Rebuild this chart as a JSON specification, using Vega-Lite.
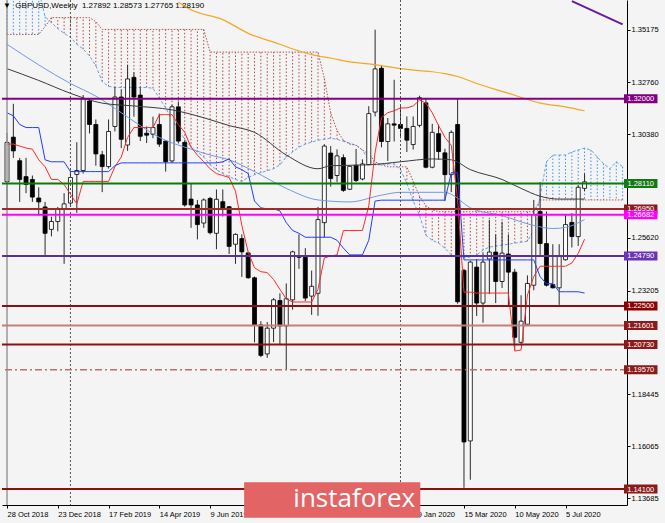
{
"$schema":"https://vega.github.io/schema/vega-lite/v6.json",
"width":625,"height":505,
"autosize":{"type":"none"},
"padding":{"left":2,"top":0,"right":38,"bottom":18},
"background":"#f4f4f4",
"view":{"stroke":null,"fill":"#f4f4f4"},
"config":{"font":"Liberation Sans","axis":{"labelFont":"Liberation Sans","labelFontSize":7.5,"labelColor":"#000","tickColor":"#000","domainColor":"#000","tickSize":3,"grid":false,"title":null}},
"title":{"text":"▼\u00a0\u00a0GBPUSD,Weekly\u00a0\u00a01.27892 1.28573 1.27765 1.28190","anchor":"start","frame":"group","offset":-11,"fontSize":8,"font":"Liberation Sans","fontWeight":"normal","color":"#000","dx":1},
"datasets":{
"candles":[
{"d":"2018-10-28","o":1.2820,"h":1.3043,"l":1.2700,"c":1.3000},
{"d":"2018-11-04","o":1.3024,"h":1.3177,"l":1.2929,"c":1.2961},
{"d":"2018-11-11","o":1.2916,"h":1.2929,"l":1.2727,"c":1.2830},
{"d":"2018-11-18","o":1.2843,"h":1.2929,"l":1.2767,"c":1.2807},
{"d":"2018-11-25","o":1.2830,"h":1.2848,"l":1.2727,"c":1.2749},
{"d":"2018-12-02","o":1.2745,"h":1.2794,"l":1.2664,"c":1.2727},
{"d":"2018-12-09","o":1.2704,"h":1.2727,"l":1.2484,"c":1.2583},
{"d":"2018-12-16","o":1.2601,"h":1.2659,"l":1.2569,"c":1.2637},
{"d":"2018-12-23","o":1.2637,"h":1.2704,"l":1.2592,"c":1.2695},
{"d":"2018-12-30","o":1.2695,"h":1.2767,"l":1.2443,"c":1.2718},
{"d":"2019-01-06","o":1.2722,"h":1.2871,"l":1.2704,"c":1.2839},
{"d":"2019-01-13","o":1.2853,"h":1.3001,"l":1.2677,"c":1.2871},
{"d":"2019-01-20","o":1.2871,"h":1.3217,"l":1.2857,"c":1.3199},
{"d":"2019-01-27","o":1.3190,"h":1.3199,"l":1.3041,"c":1.3082},
{"d":"2019-02-03","o":1.3082,"h":1.3105,"l":1.2893,"c":1.2947},
{"d":"2019-02-10","o":1.2943,"h":1.2961,"l":1.2772,"c":1.2889},
{"d":"2019-02-17","o":1.2889,"h":1.3105,"l":1.2880,"c":1.3050},
{"d":"2019-02-24","o":1.3073,"h":1.3253,"l":1.3050,"c":1.3208},
{"d":"2019-03-03","o":1.3208,"h":1.3244,"l":1.2974,"c":1.3014},
{"d":"2019-03-10","o":1.2988,"h":1.3356,"l":1.2961,"c":1.3291},
{"d":"2019-03-17","o":1.3298,"h":1.3321,"l":1.3118,"c":1.3208},
{"d":"2019-03-24","o":1.3217,"h":1.3253,"l":1.3006,"c":1.3028},
{"d":"2019-03-31","o":1.3042,"h":1.3073,"l":1.2997,"c":1.3033},
{"d":"2019-04-07","o":1.3037,"h":1.3118,"l":1.3019,"c":1.3068},
{"d":"2019-04-14","o":1.3082,"h":1.3132,"l":1.2979,"c":1.2992},
{"d":"2019-04-21","o":1.3006,"h":1.3010,"l":1.2866,"c":1.2911},
{"d":"2019-04-28","o":1.2915,"h":1.3172,"l":1.2906,"c":1.3163},
{"d":"2019-05-05","o":1.3163,"h":1.3186,"l":1.2995,"c":1.3006},
{"d":"2019-05-12","o":1.3000,"h":1.3010,"l":1.2705,"c":1.2713},
{"d":"2019-05-19","o":1.2740,"h":1.2812,"l":1.2608,"c":1.2713},
{"d":"2019-05-26","o":1.2713,"h":1.2736,"l":1.2555,"c":1.2623},
{"d":"2019-06-02","o":1.2630,"h":1.2743,"l":1.2608,"c":1.2736},
{"d":"2019-06-09","o":1.2743,"h":1.2750,"l":1.2578,"c":1.2586},
{"d":"2019-06-16","o":1.2583,"h":1.2784,"l":1.2510,"c":1.2739},
{"d":"2019-06-23","o":1.2728,"h":1.2784,"l":1.2660,"c":1.2698},
{"d":"2019-06-30","o":1.2705,"h":1.2708,"l":1.2488,"c":1.2523},
{"d":"2019-07-07","o":1.2533,"h":1.2583,"l":1.2443,"c":1.2578},
{"d":"2019-07-14","o":1.2559,"h":1.2578,"l":1.2383,"c":1.2498},
{"d":"2019-07-21","o":1.2493,"h":1.2497,"l":1.2375,"c":1.2379},
{"d":"2019-07-28","o":1.2379,"h":1.2385,"l":1.2083,"c":1.2163},
{"d":"2019-08-04","o":1.2163,"h":1.2180,"l":1.2015,"c":1.2023},
{"d":"2019-08-11","o":1.2030,"h":1.2176,"l":1.2012,"c":1.2148},
{"d":"2019-08-18","o":1.2148,"h":1.2286,"l":1.2084,"c":1.2278},
{"d":"2019-08-25","o":1.2275,"h":1.2308,"l":1.2070,"c":1.2158},
{"d":"2019-09-01","o":1.2158,"h":1.2353,"l":1.1958,"c":1.2283},
{"d":"2019-09-08","o":1.2278,"h":1.2503,"l":1.2233,"c":1.2498},
{"d":"2019-09-15","o":1.2478,"h":1.2578,"l":1.2420,"c":1.2473},
{"d":"2019-09-22","o":1.2473,"h":1.2515,"l":1.2272,"c":1.2286},
{"d":"2019-09-29","o":1.2295,"h":1.2412,"l":1.2209,"c":1.2340},
{"d":"2019-10-06","o":1.2308,"h":1.2704,"l":1.2205,"c":1.2646},
{"d":"2019-10-13","o":1.2632,"h":1.2992,"l":1.2564,"c":1.2983},
{"d":"2019-10-20","o":1.2951,"h":1.2983,"l":1.2797,"c":1.2834},
{"d":"2019-10-27","o":1.2848,"h":1.2968,"l":1.2818,"c":1.2938},
{"d":"2019-11-03","o":1.2930,"h":1.2945,"l":1.2773,"c":1.2780},
{"d":"2019-11-10","o":1.2785,"h":1.2895,"l":1.2782,"c":1.2890},
{"d":"2019-11-17","o":1.2895,"h":1.2970,"l":1.2818,"c":1.2825},
{"d":"2019-11-24","o":1.2832,"h":1.2922,"l":1.2826,"c":1.2901},
{"d":"2019-12-01","o":1.2898,"h":1.3166,"l":1.2897,"c":1.3132},
{"d":"2019-12-08","o":1.3139,"h":1.3517,"l":1.3119,"c":1.3337},
{"d":"2019-12-15","o":1.3340,"h":1.3352,"l":1.2977,"c":1.3004},
{"d":"2019-12-22","o":1.3004,"h":1.3112,"l":1.2915,"c":1.3085},
{"d":"2019-12-29","o":1.3085,"h":1.3287,"l":1.3004,"c":1.3079},
{"d":"2020-01-05","o":1.3082,"h":1.3166,"l":1.3019,"c":1.3064},
{"d":"2020-01-12","o":1.3064,"h":1.3119,"l":1.2956,"c":1.3010},
{"d":"2020-01-19","o":1.2990,"h":1.3119,"l":1.2967,"c":1.3073},
{"d":"2020-01-26","o":1.3078,"h":1.3214,"l":1.3069,"c":1.3205},
{"d":"2020-02-02","o":1.3181,"h":1.3202,"l":1.2881,"c":1.2886},
{"d":"2020-02-09","o":1.2886,"h":1.3085,"l":1.2881,"c":1.3046},
{"d":"2020-02-16","o":1.3040,"h":1.3082,"l":1.2920,"c":1.2958},
{"d":"2020-02-23","o":1.2952,"h":1.2971,"l":1.2731,"c":1.2852},
{"d":"2020-03-01","o":1.2852,"h":1.3055,"l":1.2772,"c":1.3046},
{"d":"2020-03-08","o":1.3082,"h":1.3202,"l":1.2260,"c":1.2269},
{"d":"2020-03-15","o":1.2413,"h":1.2420,"l":1.1416,"c":1.1626},
{"d":"2020-03-22","o":1.1631,"h":1.2458,"l":1.1453,"c":1.2451},
{"d":"2020-03-29","o":1.2428,"h":1.2465,"l":1.2204,"c":1.2263},
{"d":"2020-04-05","o":1.2263,"h":1.2496,"l":1.2173,"c":1.2451},
{"d":"2020-04-12","o":1.2465,"h":1.2645,"l":1.2304,"c":1.2497},
{"d":"2020-04-19","o":1.2497,"h":1.2578,"l":1.2263,"c":1.2362},
{"d":"2020-04-26","o":1.2362,"h":1.2636,"l":1.2332,"c":1.2492},
{"d":"2020-05-03","o":1.2488,"h":1.2578,"l":1.2250,"c":1.2405},
{"d":"2020-05-10","o":1.2405,"h":1.2420,"l":1.2046,"c":1.2106},
{"d":"2020-05-17","o":1.2083,"h":1.2299,"l":1.2075,"c":1.2180},
{"d":"2020-05-24","o":1.2166,"h":1.2390,"l":1.2164,"c":1.2353},
{"d":"2020-05-31","o":1.2345,"h":1.2736,"l":1.2322,"c":1.2668},
{"d":"2020-06-07","o":1.2683,"h":1.2818,"l":1.2480,"c":1.2536},
{"d":"2020-06-14","o":1.2536,"h":1.2683,"l":1.2339,"c":1.2345},
{"d":"2020-06-21","o":1.2348,"h":1.2533,"l":1.2330,"c":1.2333},
{"d":"2020-06-28","o":1.2333,"h":1.2533,"l":1.2255,"c":1.2480},
{"d":"2020-07-05","o":1.2462,"h":1.2668,"l":1.2458,"c":1.2623},
{"d":"2020-07-12","o":1.2633,"h":1.2675,"l":1.2518,"c":1.2568},
{"d":"2020-07-19","o":1.2568,"h":1.2803,"l":1.2525,"c":1.2794},
{"d":"2020-07-26","o":1.27892,"h":1.28573,"l":1.27765,"c":1.28190}
],
"ichi":[
{"d":"2018-10-28","t":1.2992,"k":1.3136},{"d":"2018-11-04","t":1.2992,"k":1.3122},{"d":"2018-11-11","t":1.2983,"k":1.3082},{"d":"2018-11-18","t":1.2974,"k":1.3068},{"d":"2018-11-25","t":1.2969,"k":1.3068},{"d":"2018-12-02","t":1.2920,"k":1.3068},{"d":"2018-12-09","t":1.2888,"k":1.2920},{"d":"2018-12-16","t":1.2830,"k":1.2911},{"d":"2018-12-23","t":1.2830,"k":1.2911},{"d":"2018-12-30","t":1.2807,"k":1.2911},
{"d":"2019-01-06","t":1.2762,"k":1.2866},{"d":"2019-01-13","t":1.2718,"k":1.2866},{"d":"2019-01-20","t":1.2821,"k":1.2866},{"d":"2019-01-27","t":1.2821,"k":1.2866},{"d":"2019-02-03","t":1.2821,"k":1.2866},{"d":"2019-02-10","t":1.2821,"k":1.2866},{"d":"2019-02-17","t":1.2821,"k":1.2866},{"d":"2019-02-24","t":1.2888,"k":1.2893},{"d":"2019-03-03","t":1.2933,"k":1.2906},{"d":"2019-03-10","t":1.3023,"k":1.2906},
{"d":"2019-03-17","t":1.3068,"k":1.2906},{"d":"2019-03-24","t":1.3068,"k":1.2906},{"d":"2019-03-31","t":1.3068,"k":1.2906},{"d":"2019-04-07","t":1.3068,"k":1.2906},{"d":"2019-04-14","t":1.3127,"k":1.2906},{"d":"2019-04-21","t":1.3127,"k":1.2906},{"d":"2019-04-28","t":1.3127,"k":1.2906},{"d":"2019-05-05","t":1.3082,"k":1.2906},{"d":"2019-05-12","t":1.3046,"k":1.2906},{"d":"2019-05-19","t":1.2978,"k":1.2906},
{"d":"2019-05-26","t":1.2942,"k":1.2906},{"d":"2019-06-02","t":1.2911,"k":1.2906},{"d":"2019-06-09","t":1.2879,"k":1.2906},{"d":"2019-06-16","t":1.2857,"k":1.2906},{"d":"2019-06-23","t":1.2848,"k":1.2911},{"d":"2019-06-30","t":1.2839,"k":1.2924},{"d":"2019-07-07","t":1.2776,"k":1.2888},{"d":"2019-07-14","t":1.2619,"k":1.2875},{"d":"2019-07-21","t":1.2497,"k":1.2857},{"d":"2019-07-28","t":1.2425,"k":1.2731},
{"d":"2019-08-04","t":1.2407,"k":1.2700},{"d":"2019-08-11","t":1.2403,"k":1.2695},{"d":"2019-08-18","t":1.2371,"k":1.2695},{"d":"2019-08-25","t":1.2326,"k":1.2686},{"d":"2019-09-01","t":1.2282,"k":1.2632},{"d":"2019-09-08","t":1.2268,"k":1.2596},{"d":"2019-09-15","t":1.2268,"k":1.2583},{"d":"2019-09-22","t":1.2268,"k":1.2565},{"d":"2019-09-29","t":1.2268,"k":1.2565},{"d":"2019-10-06","t":1.2326,"k":1.2565},
{"d":"2019-10-13","t":1.2470,"k":1.2565},{"d":"2019-10-20","t":1.2479,"k":1.2565},{"d":"2019-10-27","t":1.2484,"k":1.2551},{"d":"2019-11-03","t":1.2596,"k":1.2515},{"d":"2019-11-10","t":1.2596,"k":1.2484},{"d":"2019-11-17","t":1.2596,"k":1.2484},{"d":"2019-11-24","t":1.2596,"k":1.2484},{"d":"2019-12-01","t":1.2709,"k":1.2551},{"d":"2019-12-08","t":1.2956,"k":1.2731},{"d":"2019-12-15","t":1.3113,"k":1.2735},
{"d":"2019-12-22","t":1.3136,"k":1.2735},{"d":"2019-12-29","t":1.3145,"k":1.2735},{"d":"2020-01-05","t":1.3158,"k":1.2735},{"d":"2020-01-12","t":1.3158,"k":1.2735},{"d":"2020-01-19","t":1.3167,"k":1.2735},{"d":"2020-01-26","t":1.3194,"k":1.2735},{"d":"2020-02-02","t":1.3180,"k":1.2735},{"d":"2020-02-09","t":1.3136,"k":1.2735},{"d":"2020-02-16","t":1.3077,"k":1.2735},{"d":"2020-02-23","t":1.3023,"k":1.2735},
{"d":"2020-03-01","t":1.2987,"k":1.2861},{"d":"2020-03-08","t":1.2737,"k":1.2861},{"d":"2020-03-15","t":1.2313,"k":1.2461},{"d":"2020-03-22","t":1.2313,"k":1.2461},{"d":"2020-03-29","t":1.2309,"k":1.2461},{"d":"2020-04-05","t":1.2309,"k":1.2461},{"d":"2020-04-12","t":1.2309,"k":1.2461},{"d":"2020-04-19","t":1.2309,"k":1.2461},{"d":"2020-04-26","t":1.2309,"k":1.2461},{"d":"2020-05-03","t":1.2309,"k":1.2461},
{"d":"2020-05-10","t":1.2043,"k":1.2461},{"d":"2020-05-17","t":1.2048,"k":1.2461},{"d":"2020-05-24","t":1.2300,"k":1.2461},{"d":"2020-05-31","t":1.2385,"k":1.2461},{"d":"2020-06-07","t":1.2432,"k":1.2384},{"d":"2020-06-14","t":1.2432,"k":1.2352},{"d":"2020-06-21","t":1.2432,"k":1.2352},{"d":"2020-06-28","t":1.2432,"k":1.2315},{"d":"2020-07-05","t":1.2432,"k":1.2315},{"d":"2020-07-12","t":1.2447,"k":1.2315},
{"d":"2020-07-19","t":1.2491,"k":1.2315},{"d":"2020-07-26","t":1.2556,"k":1.2309}
],
"cloud":[
{"d":"2018-10-28","a":1.3697,"b":1.3495},{"d":"2018-11-04","a":1.3697,"b":1.3495},{"d":"2018-11-11","a":1.3697,"b":1.3495},{"d":"2018-11-18","a":1.3697,"b":1.3495},{"d":"2018-11-25","a":1.3697,"b":1.3495},{"d":"2018-12-02","a":1.3697,"b":1.3495},{"d":"2018-12-09","a":1.3576,"b":1.3531},{"d":"2018-12-16","a":1.3549,"b":1.3572},{"d":"2018-12-23","a":1.3522,"b":1.3572},{"d":"2018-12-30","a":1.3500,"b":1.3572},
{"d":"2019-01-06","a":1.3482,"b":1.3572},{"d":"2019-01-13","a":1.3450,"b":1.3572},{"d":"2019-01-20","a":1.3428,"b":1.3572},{"d":"2019-01-27","a":1.3396,"b":1.3572},{"d":"2019-02-03","a":1.3351,"b":1.3554},{"d":"2019-02-10","a":1.3279,"b":1.3518},{"d":"2019-02-17","a":1.3257,"b":1.3518},{"d":"2019-02-24","a":1.3252,"b":1.3518},{"d":"2019-03-03","a":1.3252,"b":1.3518},{"d":"2019-03-10","a":1.3252,"b":1.3518},
{"d":"2019-03-17","a":1.3252,"b":1.3518},{"d":"2019-03-24","a":1.3252,"b":1.3518},{"d":"2019-03-31","a":1.3252,"b":1.3518},{"d":"2019-04-07","a":1.3248,"b":1.3518},{"d":"2019-04-14","a":1.3203,"b":1.3518},{"d":"2019-04-21","a":1.3158,"b":1.3518},{"d":"2019-04-28","a":1.3104,"b":1.3518},{"d":"2019-05-05","a":1.3059,"b":1.3518},{"d":"2019-05-12","a":1.3014,"b":1.3518},{"d":"2019-05-19","a":1.2978,"b":1.3518},
{"d":"2019-05-26","a":1.2956,"b":1.3518},{"d":"2019-06-02","a":1.2933,"b":1.3518},{"d":"2019-06-09","a":1.2897,"b":1.3414},{"d":"2019-06-16","a":1.2875,"b":1.3414},{"d":"2019-06-23","a":1.2857,"b":1.3414},{"d":"2019-06-30","a":1.2843,"b":1.3414},{"d":"2019-07-07","a":1.2830,"b":1.3414},{"d":"2019-07-14","a":1.2821,"b":1.3414},{"d":"2019-07-21","a":1.2839,"b":1.3414},{"d":"2019-07-28","a":1.2852,"b":1.3414},
{"d":"2019-08-04","a":1.2861,"b":1.3414},{"d":"2019-08-11","a":1.2870,"b":1.3414},{"d":"2019-08-18","a":1.2879,"b":1.3414},{"d":"2019-08-25","a":1.2897,"b":1.3414},{"d":"2019-09-01","a":1.2933,"b":1.3414},{"d":"2019-09-08","a":1.2956,"b":1.3414},{"d":"2019-09-15","a":1.2978,"b":1.3414},{"d":"2019-09-22","a":1.2992,"b":1.3414},{"d":"2019-09-29","a":1.3001,"b":1.3414},{"d":"2019-10-06","a":1.3010,"b":1.3414},
{"d":"2019-10-13","a":1.3014,"b":1.3293},{"d":"2019-10-20","a":1.3019,"b":1.3136},{"d":"2019-10-27","a":1.3014,"b":1.3055},{"d":"2019-11-03","a":1.3005,"b":1.3010},{"d":"2019-11-10","a":1.2996,"b":1.2992},{"d":"2019-11-17","a":1.2987,"b":1.2987},{"d":"2019-11-24","a":1.2965,"b":1.2965},{"d":"2019-12-01","a":1.2920,"b":1.2947},{"d":"2019-12-08","a":1.2897,"b":1.2911},{"d":"2019-12-15","a":1.2897,"b":1.2897},
{"d":"2019-12-22","a":1.2902,"b":1.2888},{"d":"2019-12-29","a":1.2902,"b":1.2888},{"d":"2020-01-05","a":1.2875,"b":1.2888},{"d":"2020-01-12","a":1.2812,"b":1.2888},{"d":"2020-01-19","a":1.2731,"b":1.2821},{"d":"2020-01-26","a":1.2664,"b":1.2753},{"d":"2020-02-02","a":1.2574,"b":1.2709},{"d":"2020-02-09","a":1.2551,"b":1.2691},{"d":"2020-02-16","a":1.2538,"b":1.2682},{"d":"2020-02-23","a":1.2515,"b":1.2682},
{"d":"2020-03-01","a":1.2484,"b":1.2682},{"d":"2020-03-08","a":1.2470,"b":1.2682},{"d":"2020-03-15","a":1.2470,"b":1.2682},{"d":"2020-03-22","a":1.2475,"b":1.2682},{"d":"2020-03-29","a":1.2484,"b":1.2682},{"d":"2020-04-05","a":1.2506,"b":1.2682},{"d":"2020-04-12","a":1.2520,"b":1.2682},{"d":"2020-04-19","a":1.2524,"b":1.2682},{"d":"2020-04-26","a":1.2529,"b":1.2682},{"d":"2020-05-03","a":1.2533,"b":1.2682},
{"d":"2020-05-10","a":1.2538,"b":1.2682},{"d":"2020-05-17","a":1.2542,"b":1.2682},{"d":"2020-05-24","a":1.2547,"b":1.2682},{"d":"2020-05-31","a":1.2596,"b":1.2682},{"d":"2020-06-07","a":1.2753,"b":1.2736},{"d":"2020-06-14","a":1.2911,"b":1.2736},{"d":"2020-06-21","a":1.2942,"b":1.2736},{"d":"2020-06-28","a":1.2942,"b":1.2736},{"d":"2020-07-05","a":1.2942,"b":1.2736},{"d":"2020-07-12","a":1.2956,"b":1.2736},
{"d":"2020-07-19","a":1.2965,"b":1.2736},{"d":"2020-07-26","a":1.2974,"b":1.2736},{"d":"2020-08-02","a":1.2965,"b":1.2736},{"d":"2020-08-09","a":1.2933,"b":1.2736},{"d":"2020-08-16","a":1.2902,"b":1.2736},{"d":"2020-08-23","a":1.2879,"b":1.2736},{"d":"2020-08-30","a":1.2911,"b":1.2736},{"d":"2020-09-06","a":1.2888,"b":1.2736}
],
"maBlue":[
{"d":"2018-10-28","v":1.3450},{"d":"2019-01-06","v":1.3270},{"d":"2019-02-03","v":1.3212},{"d":"2019-03-03","v":1.3136},{"d":"2019-03-24","v":1.3077},{"d":"2019-04-14","v":1.3023},{"d":"2019-05-19","v":1.2969},{"d":"2019-06-09","v":1.2942},{"d":"2019-06-30","v":1.2920},{"d":"2019-07-28","v":1.2866},{"d":"2019-09-01","v":1.2789},{"d":"2019-10-06","v":1.2736},{"d":"2019-11-10","v":1.2727},{"d":"2019-12-15","v":1.2758},{"d":"2020-01-05","v":1.2771},{"d":"2020-02-23","v":1.2771},{"d":"2020-03-01","v":1.2762},{"d":"2020-03-22","v":1.2700},{"d":"2020-04-26","v":1.2664},{"d":"2020-05-31","v":1.2619},{"d":"2020-06-21","v":1.2605},{"d":"2020-07-05","v":1.2610},{"d":"2020-07-26","v":1.2646}
],
"maBlack":[
{"d":"2018-10-28","v":1.3338},{"d":"2018-12-02","v":1.3284},{"d":"2019-01-06","v":1.3225},{"d":"2019-02-10","v":1.3180},{"d":"2019-03-17","v":1.3167},{"d":"2019-04-28","v":1.3149},{"d":"2019-06-02","v":1.3113},{"d":"2019-06-30","v":1.3077},{"d":"2019-07-28","v":1.3046},{"d":"2019-09-01","v":1.2942},{"d":"2019-10-06","v":1.2879},{"d":"2019-10-20","v":1.2893},{"d":"2019-12-01","v":1.2897},{"d":"2020-01-05","v":1.2911},{"d":"2020-02-09","v":1.2924},{"d":"2020-03-01","v":1.2920},{"d":"2020-03-22","v":1.2875},{"d":"2020-04-26","v":1.2830},{"d":"2020-05-17","v":1.2789},{"d":"2020-06-07","v":1.2753},{"d":"2020-06-28","v":1.2740},{"d":"2020-07-26","v":1.2740}
],
"maOrange":[
{"d":"2019-05-05","v":1.3643},{"d":"2019-05-19","v":1.3608},{"d":"2019-06-23","v":1.3563},{"d":"2019-07-21","v":1.3500},{"d":"2019-08-25","v":1.3450},{"d":"2019-09-15","v":1.3419},{"d":"2019-10-06","v":1.3396},{"d":"2019-10-20","v":1.3387},{"d":"2019-11-10","v":1.3369},{"d":"2019-12-01","v":1.3360},{"d":"2019-12-22","v":1.3347},{"d":"2020-01-05","v":1.3338},{"d":"2020-01-26","v":1.3329},{"d":"2020-02-09","v":1.3324},{"d":"2020-02-23","v":1.3315},{"d":"2020-03-08","v":1.3302},{"d":"2020-03-29","v":1.3270},{"d":"2020-04-26","v":1.3234},{"d":"2020-05-10","v":1.3216},{"d":"2020-06-07","v":1.3180},{"d":"2020-07-05","v":1.3163},{"d":"2020-07-26","v":1.3145}
],
"purple":[{"d":"2020-07-12","v":1.3648},{"d":"2020-09-06","v":1.3541}],
"sep":[{"d":"2019-01-06"},{"d":"2020-01-05"}],
"levels":[
{"price":1.32,"label":"1.32000"},{"price":1.2811,"label":"1.28110"},{"price":1.2695,"label":"1.26950"},{"price":1.26682,"label":"1.26682"},{"price":1.2479,"label":"1.24790"},{"price":1.225,"label":"1.22500"},{"price":1.21601,"label":"1.21601"},{"price":1.2073,"label":"1.20730"},{"price":1.1957,"label":"1.19570"},{"price":1.141,"label":"1.14100"}
]
},
"layer":[
{"data":{"name":"cloud"},"mark":{"type":"rule","clip":true,"strokeDash":[1.5,2],"strokeWidth":1},
 "encoding":{
  "x":{"field":"d","type":"temporal","title":null,
   "scale":{"type":"utc","nice":false,"domain":[{"year":2018,"month":10,"date":28,"utc":true},{"year":2020,"month":9,"date":5,"hours":7,"utc":true}]},
   "axis":{"orient":"bottom","format":"%-d %b %Y","labelAlign":"left","labelPadding":2,"labelOverlap":false,"labelFlush":false,"tickSize":3,
    "values":[{"year":2018,"month":10,"date":28,"utc":true},{"year":2018,"month":12,"date":23,"utc":true},{"year":2019,"month":2,"date":17,"utc":true},{"year":2019,"month":4,"date":14,"utc":true},{"year":2019,"month":6,"date":9,"utc":true},{"year":2020,"month":1,"date":19,"utc":true},{"year":2020,"month":3,"date":15,"utc":true},{"year":2020,"month":5,"date":10,"utc":true},{"year":2020,"month":7,"date":5,"utc":true}]}},
  "y":{"field":"a","type":"quantitative","title":null,
   "scale":{"domain":[1.136,1.363],"zero":false,"nice":false},
   "axis":{"orient":"right","format":".5f","labelPadding":1,"tickSize":3,
    "values":[1.35175,1.3395,1.3276,1.3157,1.3038,1.2919,1.2562,1.2443,1.23205,1.22015,1.18445,1.17255,1.16065,1.14875,1.13685]}},
  "y2":{"field":"b"},
  "color":{"condition":{"test":"datum.a > datum.b","value":"#3d8ff0"},"value":"#b84646"}}},
{"data":{"name":"cloud"},"mark":{"type":"line","clip":true,"strokeDash":[3,2],"strokeWidth":1,"color":"#5aa6ef"},
 "encoding":{"x":{"field":"d","type":"temporal"},"y":{"field":"a","type":"quantitative"}}},
{"data":{"name":"cloud"},"mark":{"type":"line","clip":true,"strokeDash":[1.5,1.5],"strokeWidth":1,"color":"#b85050"},
 "encoding":{"x":{"field":"d","type":"temporal"},"y":{"field":"b","type":"quantitative"}}},
{"data":{"name":"candles"},"mark":{"type":"rule","clip":true,"color":"#2a2a2a","strokeWidth":1},
 "encoding":{"x":{"field":"d","type":"temporal"},"y":{"field":"l","type":"quantitative"},"y2":{"field":"h"}}},
{"data":{"name":"candles"},"mark":{"type":"bar","clip":true,"size":4,"stroke":"#000","strokeWidth":0.8},
 "encoding":{"x":{"field":"d","type":"temporal"},"y":{"field":"o","type":"quantitative"},"y2":{"field":"c"},
  "fill":{"condition":{"test":"datum.c >= datum.o","value":"#ffffff"},"value":"#000000"}}},
{"data":{"name":"maBlue"},"mark":{"type":"line","clip":true,"interpolate":"monotone","strokeWidth":1,"color":"#6f9ae8"},
 "encoding":{"x":{"field":"d","type":"temporal"},"y":{"field":"v","type":"quantitative"}}},
{"data":{"name":"maBlack"},"mark":{"type":"line","clip":true,"interpolate":"monotone","strokeWidth":1,"color":"#3a3a3a"},
 "encoding":{"x":{"field":"d","type":"temporal"},"y":{"field":"v","type":"quantitative"}}},
{"data":{"name":"maOrange"},"mark":{"type":"line","clip":true,"interpolate":"monotone","strokeWidth":1.2,"color":"#f5a623"},
 "encoding":{"x":{"field":"d","type":"temporal"},"y":{"field":"v","type":"quantitative"}}},
{"data":{"name":"ichi"},"mark":{"type":"line","clip":true,"strokeWidth":1,"color":"#ff2a2a"},
 "encoding":{"x":{"field":"d","type":"temporal"},"y":{"field":"t","type":"quantitative"}}},
{"data":{"name":"ichi"},"mark":{"type":"line","clip":true,"strokeWidth":1,"color":"#1f3fff"},
 "encoding":{"x":{"field":"d","type":"temporal"},"y":{"field":"k","type":"quantitative"}}},
{"data":{"name":"purple"},"mark":{"type":"line","clip":true,"strokeWidth":2,"color":"#6a1b9a"},
 "encoding":{"x":{"field":"d","type":"temporal"},"y":{"field":"v","type":"quantitative"}}},
{"data":{"name":"sep"},"mark":{"type":"rule","color":"#555","strokeDash":[2,2],"strokeWidth":1},
 "encoding":{"x":{"field":"d","type":"temporal"}}},
{"data":{"values":[{}]},"mark":{"type":"rule","color":"#9a9a9a","strokeWidth":1.5},
 "encoding":{"x":{"datum":{"year":2018,"month":10,"date":28,"utc":true},"type":"temporal"}}},
{"data":{"name":"levels"},"transform":[{"filter":"datum.label != '1.19570'"}],"mark":{"type":"rule","strokeWidth":2},
 "encoding":{"y":{"field":"price","type":"quantitative"},
  "color":{"field":"label","type":"nominal","legend":null,"scale":{"domain":["1.32000","1.28110","1.26950","1.26682","1.24790","1.22500","1.21601","1.20730","1.19570","1.14100"],"range":["#800080","#0b7a0b","#9e2b25","#ff00ff","#5b2d9e","#8b1010","#c08080","#8b1010","#c07070","#8b1010"]}}}},
{"data":{"name":"levels"},"transform":[{"filter":"datum.label == '1.19570'"}],"mark":{"type":"rule","strokeWidth":1.5,"color":"#c07070","strokeDash":[7,3,2,3]},
 "encoding":{"y":{"field":"price","type":"quantitative"}}},
{"data":{"name":"levels"},"mark":{"type":"bar","size":9},
 "encoding":{"y":{"field":"price","type":"quantitative"},
  "x":{"datum":{"year":2020,"month":9,"date":7,"hours":12,"utc":true},"type":"temporal"},
  "x2":{"datum":{"year":2020,"month":10,"date":14,"hours":10,"utc":true}},
  "fill":{"field":"label","type":"nominal","legend":null,"scale":{"domain":["1.32000","1.28110","1.26950","1.26682","1.24790","1.22500","1.21601","1.20730","1.19570","1.14100"],"range":["#800080","#147814","#8b1a1a","#ff00ff","#6a35b5","#8b0000","#8b1a1a","#8b1a1a","#8b1a1a","#8b1a1a"]}}}},
{"data":{"name":"levels"},"mark":{"type":"text","color":"#ffffff","fontSize":7.5,"font":"Liberation Sans","align":"center","baseline":"middle","dy":0.5},
 "encoding":{"y":{"field":"price","type":"quantitative"},
  "x":{"datum":{"year":2020,"month":9,"date":25,"hours":22,"utc":true},"type":"temporal"},
  "text":{"field":"label"}}},
{"data":{"values":[{}]},"mark":{"type":"rect","color":"#e36464"},
 "encoding":{"x":{"datum":{"year":2019,"month":7,"date":16,"hours":13,"utc":true},"type":"temporal"},
  "x2":{"datum":{"year":2020,"month":1,"date":26,"hours":20,"utc":true}},
  "y":{"datum":1.1441,"type":"quantitative"},"y2":{"datum":1.1279}}},
{"data":{"values":[{}]},"mark":{"type":"text","color":"#ffffff","fontSize":26,"font":"Open Sans","align":"left","baseline":"middle"},
 "encoding":{"x":{"datum":{"year":2019,"month":9,"date":8,"hours":19,"utc":true},"type":"temporal"},
  "y":{"datum":1.1365,"type":"quantitative"},"text":{"value":"instaforex"}}}
]
}
